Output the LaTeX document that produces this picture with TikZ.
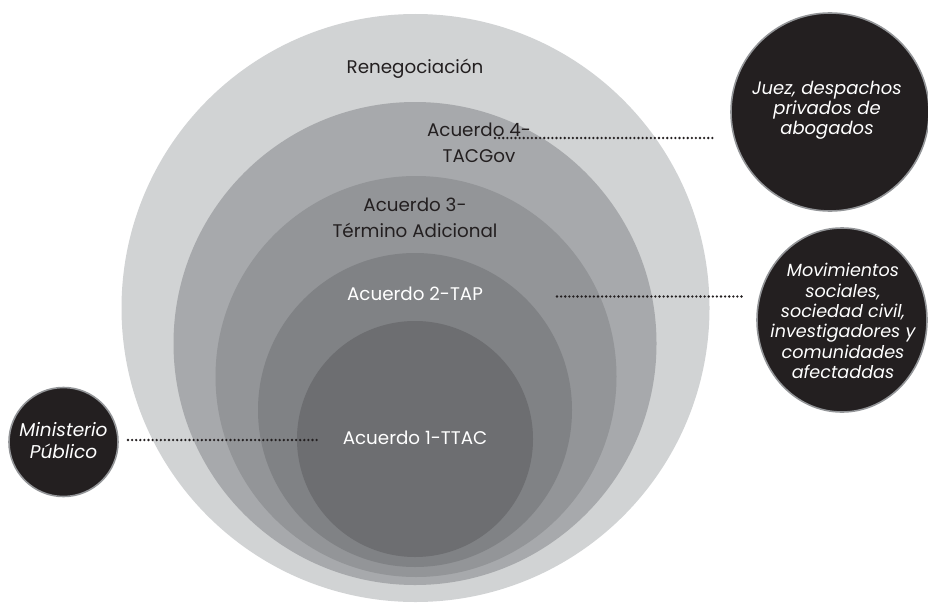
\documentclass[tikz,border=0pt]{standalone}
\usepackage{fontspec}
\setmainfont{Poppins}
\usetikzlibrary{shapes.geometric}
\definecolor{ink}{HTML}{231F20}
\definecolor{gA}{HTML}{D1D3D4}
\definecolor{gB}{HTML}{A7A9AC}
\definecolor{gC}{HTML}{939598}
\definecolor{gD}{HTML}{808285}
\definecolor{gE}{HTML}{6D6E71}
\tikzset{
  ring/.style={circle, inner sep=0pt, draw=none, fill=#1},
  blob/.style={circle, inner sep=0pt, fill=ink, draw=gC, line width=1.6pt},
  lbl/.style={font=\fontsize{18.3}{26}\selectfont, text=#1, align=center, inner sep=0pt},
  actor/.style={font=\fontsize{18}{20}\selectfont\itshape, text=white, align=center, inner sep=0pt},
  dotline/.style={draw=ink, line width=2.6pt, line cap=round, dash pattern=on 0pt off 4.1pt}
}
\begin{document}
\begin{tikzpicture}[x=1pt,y=-1pt]
\useasboundingbox (0,0) rectangle (928,602);
% nested rings
\node[ring=gA, minimum size=588pt] (r0) at (415.5,308) {};
\node[ring=gB, minimum size=483pt] (r4) at (415,343.5) {};
\node[ring=gC, minimum size=401pt] (r3) at (416,376.5) {};
\node[ring=gD, minimum size=314pt] (r2) at (415,410) {};
\node[ring=gE, minimum size=236pt] (r1) at (415,439) {};
% ring labels
\node[lbl=ink] (tren) at (415,69) {Renegociación};
\node[lbl=ink] (t4) at (479,143) {Acuerdo 4-\\TACGov};
\node[lbl=ink] (t3) at (415,218) {Acuerdo 3-\\Término Adicional};
\node[lbl=white] (t2) at (415,294) {Acuerdo 2-TAP};
\node[lbl=white] (t1) at (415,438) {Acuerdo 1-TTAC};
% actors
\node[blob, minimum size=198pt] (juez) at (830,112) {};
\node[blob, ellipse, minimum width=170pt, minimum height=184pt] (mov) at (842,320) {};
\node[blob, minimum size=109pt] (min) at (63.5,442) {};
\node[actor] (tjuez) at (827,110.5) {Juez, despachos\\privados de\\abogados};
\node[actor, font=\fontsize{17.6}{20.3}\selectfont\itshape] (tmov) at (843,321) {Movimientos\\sociales,\\sociedad civil,\\investigadores y\\comunidades\\afectaddas};
\node[actor, font=\fontsize{18.5}{22}\selectfont\itshape] (tmin) at (63.5,441) {Ministerio\\Público};
% connector ends
\coordinate (a1) at (495,138);
\coordinate (a2) at (713,138);
\coordinate (b1) at (557,296.5);
\coordinate (b2) at (744,296.5);
\coordinate (c1) at (128,440);
\coordinate (c2) at (318,440);
\draw[dotline] (a1) -- (a2);
\draw[dotline] (b1) -- (b2);
\draw[dotline] (c1) -- (c2);
\end{tikzpicture}
\end{document}
